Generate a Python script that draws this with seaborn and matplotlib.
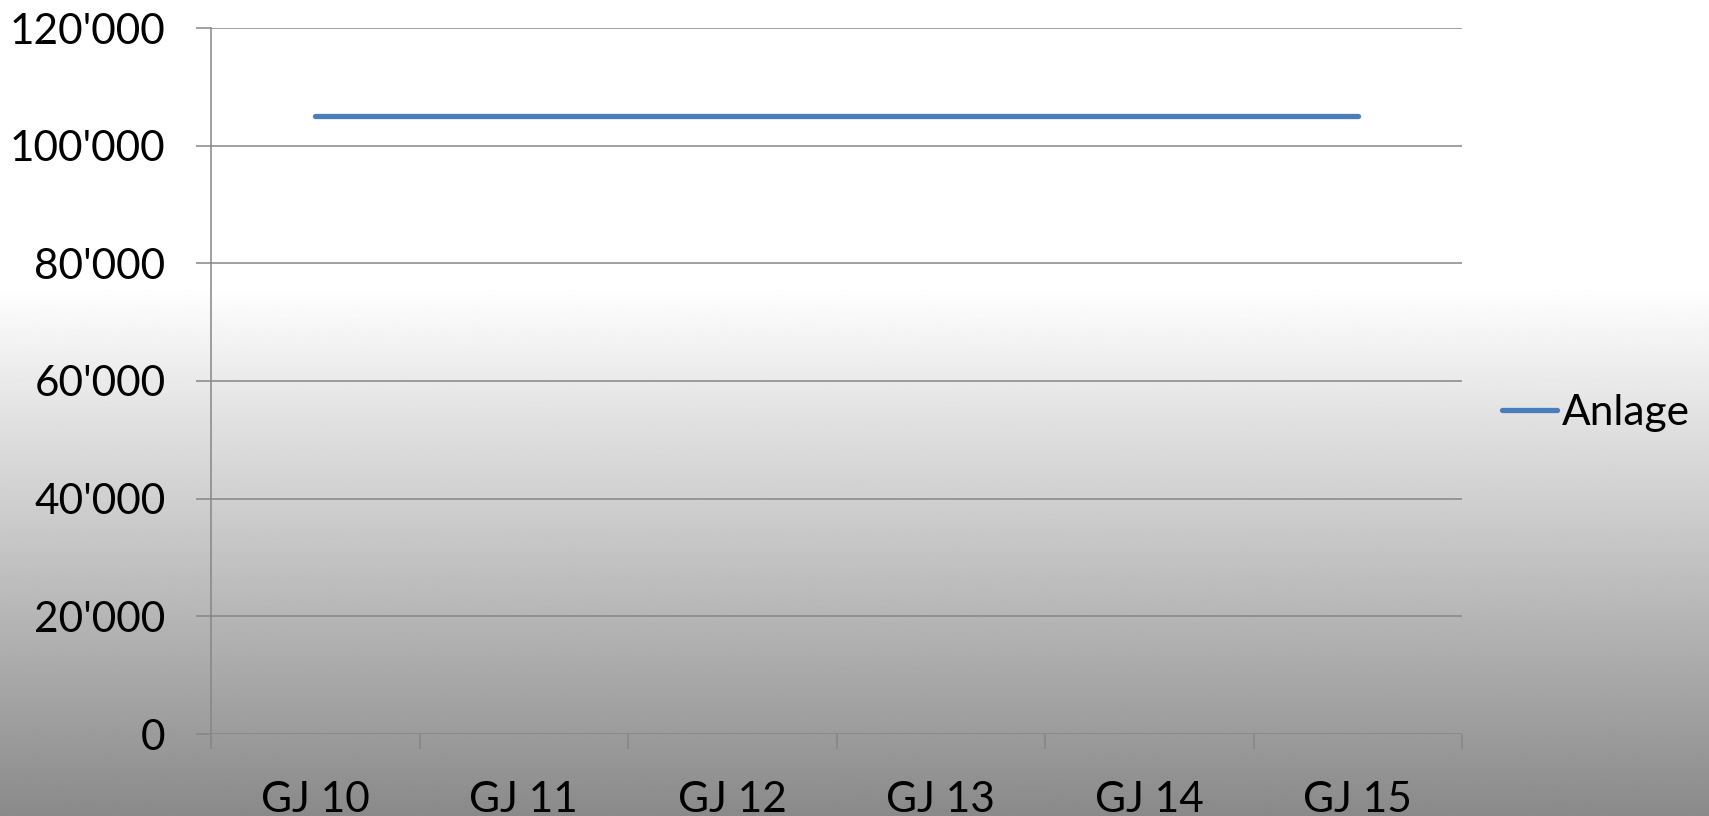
import numpy as np
import matplotlib
matplotlib.use("Agg")
import matplotlib.pyplot as plt
import matplotlib.ticker as mticker
import seaborn as sns
import pandas as pd

categories = ["GJ 10", "GJ 11", "GJ 12", "GJ 13", "GJ 14", "GJ 15"]
anlage = [105000, 105000, 105000, 105000, 105000, 105000]
series_name = "Anlage"
y_ticks = [0, 20000, 40000, 60000, 80000, 100000, 120000]

sns.set_theme(style="white")
plt.rcParams['font.family'] = ['Lato', 'DejaVu Sans']
plt.rcParams['text.color'] = 'black'

W, H = 1709, 816
fig = plt.figure(figsize=(W / 100, H / 100), dpi=100)

# background gradient: white at top, grey towards the bottom
bg = fig.add_axes([0, 0, 1, 1], zorder=0)
ys = np.linspace(0, 1, 400)
shade = np.where(ys < 0.35, 1.0, 1.0 - (ys - 0.35) / 0.65 * (1.0 - 0.54))
bg.imshow(shade[:, None], aspect='auto', cmap='gray', vmin=0, vmax=1,
          extent=[0, 1, 1, 0], interpolation='bilinear')
bg.set_axis_off()

ax = fig.add_axes([211 / W, (H - 734) / H, (1462 - 211) / W, (734 - 28) / H], zorder=1)
ax.patch.set_alpha(0)

df = pd.DataFrame({"Jahr": categories, series_name: anlage})
sns.lineplot(data=df, x="Jahr", y=series_name, ax=ax, color="#4A7EBB",
             linewidth=3.8, label=series_name, sort=False)

ax.set_xlim(-0.5, len(categories) - 0.5)
ax.set_ylim(0, 120000)
ax.set_yticks(y_ticks)
ax.yaxis.set_major_formatter(mticker.FuncFormatter(lambda v, p: f"{int(v):,}".replace(",", "'")))
ax.set_xticks(range(len(categories)))
ax.set_xticklabels(categories)
ax.set_xticks(np.arange(-0.5, len(categories)), minor=True)
ax.set_xlabel("")
ax.set_ylabel("")

ax.grid(axis='y', color="#868686", linewidth=1.1)
ax.grid(axis='x', visible=False)
for side in ["top", "right", "bottom"]:
    ax.spines[side].set_visible(False)
ax.spines["left"].set_color("#868686")
ax.spines["left"].set_linewidth(1.1)

ax.tick_params(axis='y', which='major', left=True, length=10.8, width=1.1,
               color="#868686", pad=22, labelsize=30.5, labelcolor="black")
ax.tick_params(axis='x', which='major', bottom=False, length=0, pad=34,
               labelsize=30.5, labelcolor="black")
ax.tick_params(axis='x', which='minor', bottom=True, length=10.8, width=1.1,
               color="#868686")

ax.get_legend().remove()
fig.legend(loc='center left', bbox_to_anchor=(1502 / W, 1 - 413 / H),
           frameon=False, fontsize=30.5, handlelength=1.3, handletextpad=0.12,
           borderpad=0, borderaxespad=0, labelcolor="black")

fig.savefig("out.png", dpi=100)
